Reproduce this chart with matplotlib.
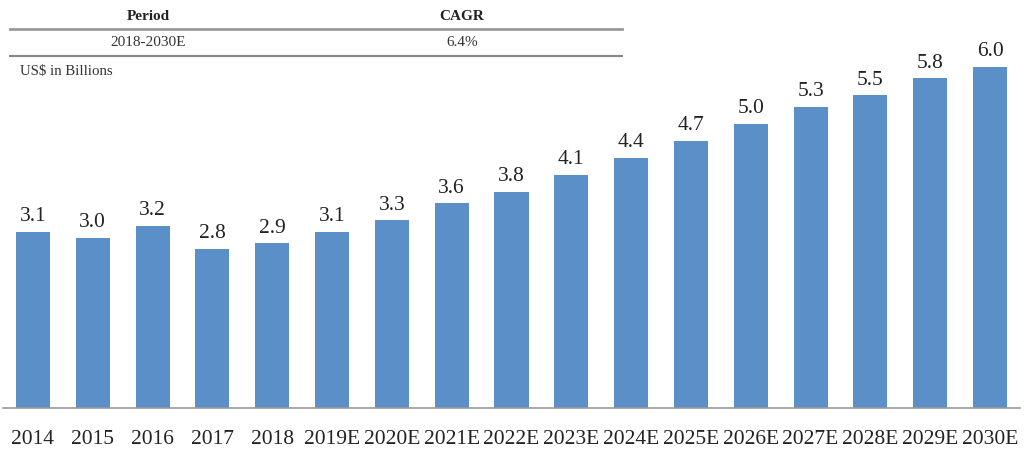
import matplotlib
matplotlib.use("Agg")
import matplotlib.pyplot as plt

years = ["2014", "2015", "2016", "2017", "2018", "2019E", "2020E", "2021E", "2022E",
         "2023E", "2024E", "2025E", "2026E", "2027E", "2028E", "2029E", "2030E"]
values = [3.1, 3.0, 3.2, 2.8, 2.9, 3.1, 3.3, 3.6, 3.8, 4.1, 4.4, 4.7, 5.0, 5.3, 5.5, 5.8, 6.0]

table_header = ["Period", "CAGR"]
table_row = ["2018-2030E", "6.4%"]
unit_note = "US$ in Billions"

plt.rcParams['font.family'] = ['Liberation Serif', 'DejaVu Serif']

fig = plt.figure(figsize=(10.24, 4.5), dpi=100)
ax = fig.add_axes([3 / 1024, 42 / 450, 1017 / 1024, 408 / 450])

x = range(len(years))
bars = ax.bar(x, values, width=0.57, color="#5b8fc7", zorder=2)
for xi, v in zip(x, values):
    ax.text(xi, v + 0.1, f"{v:.1f}", ha="center", va="bottom", fontsize=15.5, color="#222222")

ax.set_xlim(-0.5, 16.5)
ax.set_ylim(0, 7.18)
ax.set_xticks(list(x))
ax.set_xticklabels(years, fontsize=15.5, color="#222222")
ax.tick_params(axis="x", length=0, pad=16)
ax.set_yticks([])
for s in ["top", "right", "left"]:
    ax.spines[s].set_visible(False)
ax.spines["bottom"].set_color("#999999")
ax.spines["bottom"].set_linewidth(1.2)

# small CAGR table
fig.text(148 / 1024, 1 - 16 / 450, table_header[0], ha="center", va="center",
         fontsize=11, fontweight="bold", color="#222222")
fig.text(462 / 1024, 1 - 16 / 450, table_header[1], ha="center", va="center",
         fontsize=11, fontweight="bold", color="#222222")
fig.add_artist(plt.Line2D([10 / 1024, 622 / 1024], [1 - 29 / 450] * 2,
                          color="#999999", lw=2))
fig.text(148 / 1024, 1 - 43 / 450, table_row[0], ha="center", va="center",
         fontsize=11, color="#333333")
fig.text(462 / 1024, 1 - 43 / 450, table_row[1], ha="center", va="center",
         fontsize=11, color="#333333")
fig.add_artist(plt.Line2D([10 / 1024, 622 / 1024], [1 - 56 / 450] * 2,
                          color="#888888", lw=1.5))
fig.text(20 / 1024, 1 - 72 / 450, unit_note, ha="left", va="center",
         fontsize=10.7, color="#333333")

fig.savefig("out.png", dpi=100)
